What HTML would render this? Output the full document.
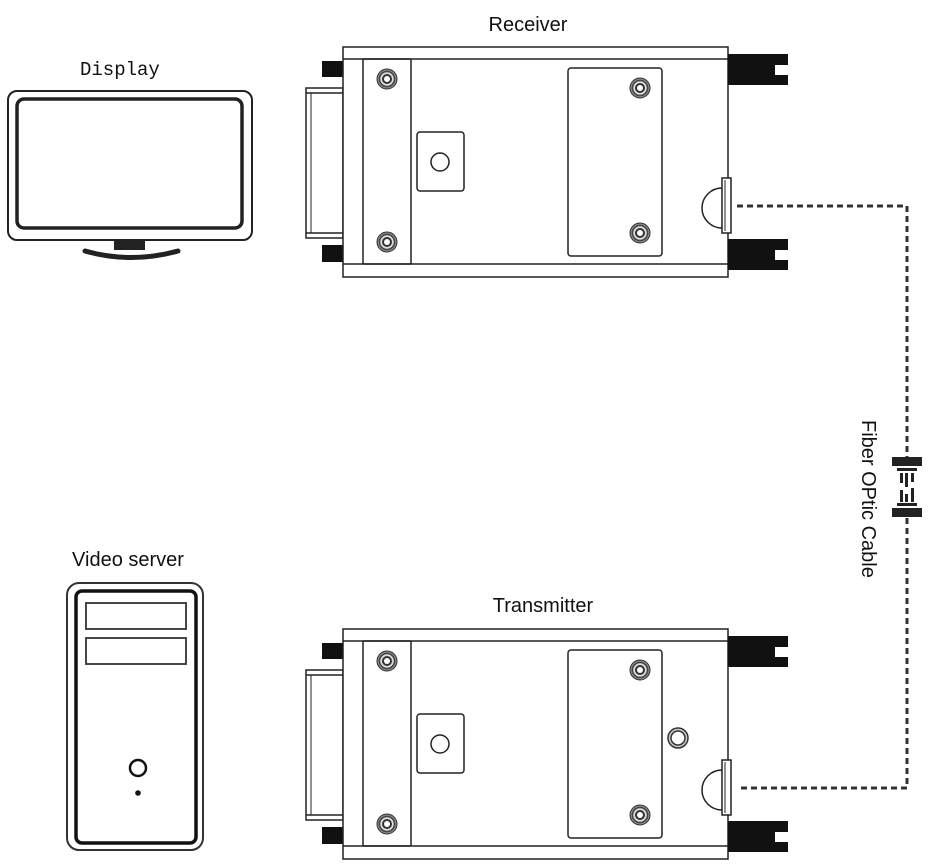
<!DOCTYPE html>
<html><head><meta charset="utf-8"><style>
body{margin:0;background:#fff}
svg{display:block}
text{font-family:"Liberation Sans",sans-serif;fill:#111}
</style></head><body>
<svg width="934" height="866" viewBox="0 0 934 866" xmlns="http://www.w3.org/2000/svg">
<defs>
<g id="screw"><circle r="10" fill="#888" stroke="#333" stroke-width="1"/><circle r="7.5" fill="#ddd" stroke="#444" stroke-width="1.5"/><circle r="5" fill="#333"/><circle r="3" fill="#fff"/></g>
<g id="dev" fill="none" stroke="#222" stroke-width="1.5">
  <rect x="306" y="88" width="37" height="150" fill="#fff"/>
  <line x1="306" y1="93" x2="343" y2="93"/><line x1="306" y1="233" x2="343" y2="233"/>
  <line x1="311" y1="93" x2="311" y2="233" stroke-width="1"/>
  <rect x="322" y="61" width="21" height="16" fill="#111" stroke="none"/>
  <rect x="322" y="245" width="21" height="17" fill="#111" stroke="none"/>
  <rect x="343" y="47" width="385" height="230" fill="#fff"/>
  <line x1="343" y1="59" x2="728" y2="59"/><line x1="343" y1="264" x2="728" y2="264"/>
  <rect x="363" y="59" width="48" height="205" rx="1"/>
  <rect x="417" y="132" width="47" height="59" rx="3"/>
  <circle cx="440" cy="162" r="9"/>
  <rect x="568" y="68" width="94" height="188" rx="3"/>
  <path d="M728 54H788V65H775V75H788V85H728Z" fill="#111" stroke="none"/>
  <path d="M728 239H788V250H775V260H788V270H728Z" fill="#111" stroke="none"/>
  <path d="M722 188A20 20 0 0 0 722 228" fill="#fff"/>
  <rect x="722" y="178" width="9" height="55" fill="#fff"/>
  <line x1="725" y1="180" x2="725" y2="231" stroke-width="1"/>
</g>
</defs>
<text x="528" y="31" font-size="20" text-anchor="middle">Receiver</text>
<use href="#dev"/>
<use href="#screw" x="387" y="79"/><use href="#screw" x="387" y="242"/>
<use href="#screw" x="640" y="88"/><use href="#screw" x="640" y="233"/>

<text x="543" y="612" font-size="20" text-anchor="middle">Transmitter</text>
<g transform="translate(0,582)"><use href="#dev"/>
<use href="#screw" x="387" y="79"/><use href="#screw" x="387" y="242"/>
<use href="#screw" x="640" y="88"/><use href="#screw" x="640" y="233"/>
</g>
<circle cx="678" cy="738" r="10" fill="#ccc" stroke="#333" stroke-width="1.5"/><circle cx="678" cy="738" r="7" fill="#fff" stroke="#333" stroke-width="1.5"/>

<!-- fiber -->
<path d="M737 206H907V458M907 518V788H737" fill="none" stroke="#333" stroke-width="3" stroke-dasharray="6 4"/>
<g fill="#222">
<rect x="892" y="457" width="30" height="9"/><rect x="892" y="508" width="30" height="9"/>
<rect x="897" y="468" width="20" height="3"/><rect x="897" y="503" width="20" height="3"/>
<rect x="900" y="473" width="3" height="10"/><rect x="905" y="473" width="3" height="14"/><rect x="911" y="473" width="3" height="9"/>
<rect x="900" y="490" width="3" height="12"/><rect x="905" y="494" width="3" height="8"/><rect x="911" y="488" width="3" height="14"/>
</g>
<text transform="translate(862,420) rotate(90)" font-size="20">Fiber OPtic Cable</text>

<!-- display -->
<text x="80" y="75" font-size="19" style="font-family:'Liberation Mono','Noto Serif CJK SC',monospace">Display</text>
<rect x="8" y="91" width="244" height="149" rx="9" fill="none" stroke="#222" stroke-width="2"/>
<rect x="17" y="99" width="225" height="129" rx="7" fill="none" stroke="#222" stroke-width="3.5"/>
<rect x="114" y="240" width="31" height="10" fill="#222"/>
<path d="M85 251Q131 264 178 251" fill="none" stroke="#222" stroke-width="5" stroke-linecap="round"/>

<!-- server -->
<text x="128" y="566" font-size="20" text-anchor="middle">Video server</text>
<rect x="67" y="583" width="136" height="267" rx="12" fill="none" stroke="#333" stroke-width="2"/>
<rect x="76" y="591" width="120" height="252" rx="6" fill="none" stroke="#111" stroke-width="3.5"/>
<rect x="86" y="603" width="100" height="26" fill="none" stroke="#333" stroke-width="1.8"/>
<rect x="86" y="638" width="100" height="26" fill="none" stroke="#333" stroke-width="1.8"/>
<circle cx="138" cy="768" r="8" fill="none" stroke="#111" stroke-width="2.5"/>
<circle cx="138" cy="793" r="2.8" fill="#111"/>
</svg>
</body></html>
